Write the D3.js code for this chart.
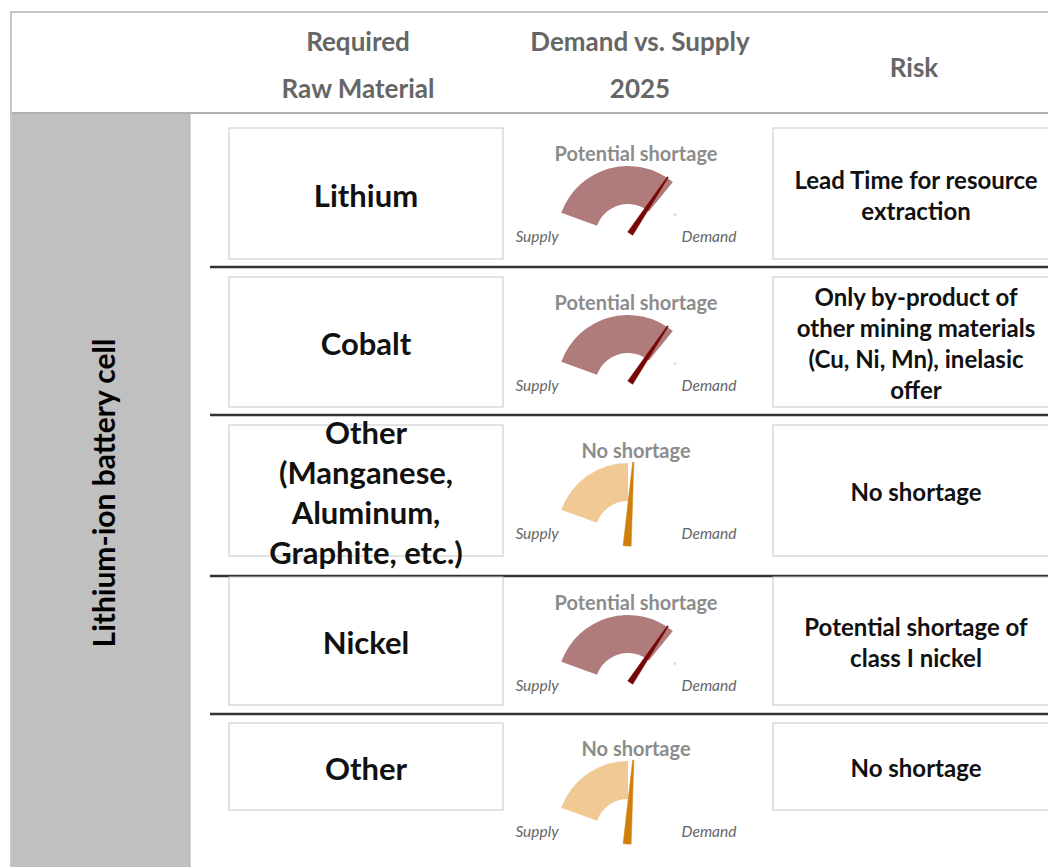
<!DOCTYPE html>
<html>
<head>
<meta charset="utf-8">
<script src="https://cdn.jsdelivr.net/npm/d3@7"></script>
<style>
  body { margin: 0; background: #fff; }
  text { font-family: Lato, "Noto Sans", sans-serif; }
</style>
</head>
<body>
<script>
// data
var materials = [
	["Lithium"],
	["Cobalt"],
	["Other", "(Manganese,", "Aluminum,", "Graphite, etc.)"],
	["Nickel"],
	["Other"]
];
var statuses = ["Potential shortage", "Potential shortage", "No shortage", "Potential shortage", "No shortage"];
// share of the gauge that is filled (0 = Supply, 1 = Demand)
var supplyLevel = [0.78, 0.78, 0.50, 0.78, 0.50];
// where the needle points
var needleLevel = [0.74, 0.74, 0.53, 0.74, 0.53];
var risks = [
	["Lead Time for resource", "extraction"],
	["Only by-product of", "other mining materials", "(Cu, Ni, Mn), inelasic", "offer"],
	["No shortage"],
	["Potential shortage of", "class I nickel"],
	["No shortage"]
];
var headers = [["Required", "Raw Material"], ["Demand vs. Supply", "2025"], ["Risk"]];
var groupLabel = "Lithium-ion battery cell";

var width = 1048, height = 867;

// layout
var boxTop = [128, 277, 425, 577, 723];
var boxBottom = [259, 407, 556, 705, 810];
var separators = [267, 415, 576, 714];

var svg = d3.select("body").append("svg")
	.attr("width", width)
	.attr("height", height);

// header frame
svg.append("line")
	.attr("x1", 10).attr("x2", width).attr("y1", 12).attr("y2", 12)
	.style("stroke", "#b4b4b4").style("stroke-width", 1.5);
svg.append("line")
	.attr("x1", 11).attr("x2", 11).attr("y1", 12).attr("y2", height)
	.style("stroke", "#b4b4b4").style("stroke-width", 1.5);

// grey side column
svg.append("rect")
	.attr("x", 12).attr("y", 113)
	.attr("width", 178).attr("height", height - 113)
	.style("fill", "#c0c0c0");
svg.append("line")
	.attr("x1", 190).attr("x2", 190).attr("y1", 113).attr("y2", height)
	.style("stroke", "#b0b0b0").style("stroke-width", 1);
svg.append("line")
	.attr("x1", 12).attr("x2", width).attr("y1", 113).attr("y2", 113)
	.style("stroke", "#b0b0b0").style("stroke-width", 2);

svg.append("text")
	.attr("transform", "translate(103,493) rotate(-90)")
	.attr("text-anchor", "middle")
	.attr("dominant-baseline", "central")
	.style("font-size", "30px")
	.style("font-weight", "bold")
	.style("fill", "#000")
	.text(groupLabel);

// header texts
var headerX = [358, 640, 914];
headers.forEach(function (lines, i) {
	var t = svg.append("text")
		.attr("text-anchor", "middle")
		.style("font-size", "26px")
		.style("font-weight", "bold")
		.style("fill", "#666");
	var y0 = lines.length == 1 ? 67 : 41;
	lines.forEach(function (l, j) {
		t.append("tspan")
			.attr("x", headerX[i])
			.attr("y", y0 + j * 47)
			.attr("dominant-baseline", "central")
			.text(l);
	});
});

// row separators
svg.append("g").selectAll("line")
	.data(separators)
	.enter().append("line")
	.attr("x1", 210).attr("x2", width)
	.attr("y1", d => d).attr("y2", d => d)
	.style("stroke", "#333").style("stroke-width", 2.5);

var rows = materials.map(function (m, i) {
	return { material: m, status: statuses[i], supply: supplyLevel[i], needle: needleLevel[i], risk: risks[i], top: boxTop[i], bottom: boxBottom[i] };
});

// boxes
function textBlock(g, lines, cx, cy, size, lineH) {
	var t = g.append("text")
		.attr("text-anchor", "middle")
		.style("font-size", size + "px")
		.style("font-weight", "bold")
		.style("fill", "#111");
	lines.forEach(function (l, j) {
		t.append("tspan")
			.attr("x", cx)
			.attr("y", cy + (j - (lines.length - 1) / 2) * lineH)
			.attr("dominant-baseline", "central")
			.text(l);
	});
}

rows.forEach(function (r) {
	var g = svg.append("g");
	g.append("rect")
		.attr("x", 229).attr("y", r.top)
		.attr("width", 274).attr("height", r.bottom - r.top)
		.style("fill", "#fff").style("stroke", "#c6c6c6").style("stroke-width", 1);
	g.append("rect")
		.attr("x", 773).attr("y", r.top)
		.attr("width", 300).attr("height", r.bottom - r.top)
		.style("fill", "#fff").style("stroke", "#c6c6c6").style("stroke-width", 1);
	textBlock(g, r.material, 366, (r.top + r.bottom) / 2 + 1, 31, 40);
	textBlock(g, r.risk, 916, (r.top + r.bottom) / 2 + 1, 24, 31);
});

// gauges
var angle = d3.scaleLinear().domain([0, 1]).range([-70 * Math.PI / 180, 70 * Math.PI / 180]);
var outerR = 71, innerR = 33;
var arc = d3.arc().innerRadius(innerR).outerRadius(outerR).startAngle(angle(0));

var palette = {
	"Potential shortage": { band: "#b07b7b", needle: "#780606", tail: -4, base: 6 },
	"No shortage": { band: "#f0c995", needle: "#d07f0a", tail: 12, base: 8 }
};

function needlePath(v, tail, base) {
	var a = angle(v), len = outerR + 1;
	var s = Math.sin(a), c = Math.cos(a);
	// perpendicular
	var px = c, py = s;
	var bx = -tail * s, by = tail * c;
	var tx = len * s, ty = -len * c;
	return "M" + [bx + px * base / 2, by + py * base / 2] +
		"L" + [tx + px * 0.6, ty + py * 0.6] +
		"L" + [tx - px * 0.6, ty - py * 0.6] +
		"L" + [bx - px * base / 2, by - py * base / 2] + "Z";
}

rows.forEach(function (r) {
	var p = palette[r.status];
	var titleY = r.top + 25;
	var g = svg.append("g");
	g.append("text")
		.attr("x", 636).attr("y", titleY)
		.attr("text-anchor", "middle")
		.attr("dominant-baseline", "central")
		.style("font-size", "20px")
		.style("font-weight", "bold")
		.style("fill", "#8c8c8c")
		.text(r.status);

	var gauge = g.append("g")
		.attr("transform", "translate(" + [628, titleY + 84] + ")");
	gauge.append("path")
		.attr("d", arc.endAngle(angle(r.supply))())
		.style("fill", p.band);
	if (r.status == "Potential shortage") {
		var a = angle(0.96), rm = (innerR + outerR) / 2;
		gauge.append("circle")
			.attr("cx", rm * Math.sin(a)).attr("cy", -rm * Math.cos(a))
			.attr("r", 1.5)
			.style("fill", "#ecd6d6");
	}
	gauge.append("path")
		.attr("d", needlePath(r.needle, p.tail, p.base))
		.attr("stroke-linejoin", "round")
		.style("stroke", p.needle)
		.style("stroke-width", 0.5)
		.style("fill", p.needle);

	g.append("text")
		.attr("x", 537).attr("y", r.top + 108)
		.attr("text-anchor", "middle")
		.attr("dominant-baseline", "central")
		.style("font-size", "15.5px")
		.style("font-style", "italic")
		.style("fill", "#666")
		.text("Supply");
	g.append("text")
		.attr("x", 709).attr("y", r.top + 108)
		.attr("text-anchor", "middle")
		.attr("dominant-baseline", "central")
		.style("font-size", "15.5px")
		.style("font-style", "italic")
		.style("fill", "#666")
		.text("Demand");
});
</script>
</body>
</html>
